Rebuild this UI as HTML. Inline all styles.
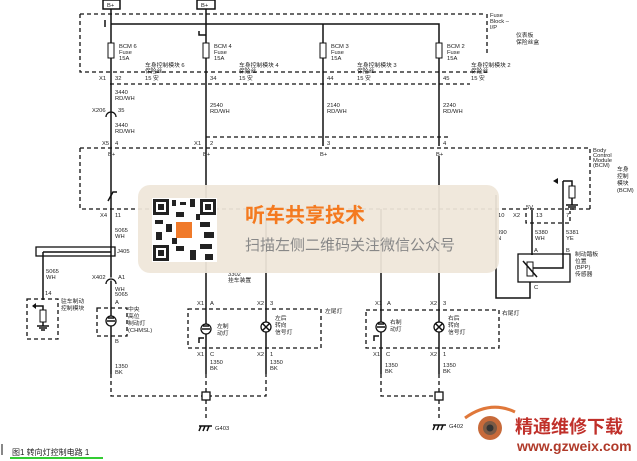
<!DOCTYPE html>
<html><head><meta charset="utf-8"><style>
html,body{margin:0;padding:0;background:#fff;}
svg{display:block;}
text{font-family:"Liberation Sans","Noto Sans CJK SC",sans-serif;fill:#222;}
.s{font-size:5.8px;}
.d{stroke:#111;stroke-width:1.3;stroke-dasharray:4,3;fill:none;}
.w{stroke:#111;stroke-width:1.5;fill:none;}
</style></head><body>
<svg width="637" height="461" viewBox="0 0 637 461" xmlns="http://www.w3.org/2000/svg">
<rect width="637" height="461" fill="#fff"/>
<rect x="103" y="0" width="17" height="9" fill="#fff" stroke="#111" stroke-width="1.5"/>
<text x="107" y="7" class="s">B+</text>
<rect x="197" y="0" width="18" height="9" fill="#fff" stroke="#111" stroke-width="1.5"/>
<text x="201" y="7" class="s">B+</text>
<path class="d" d="M80,14 H485 M487,14 V56 M80,14 V72 H487"/>
<path class="d" d="M110,84 H470"/>
<text x="490" y="17" class="s">Fuse</text><text x="490" y="23" class="s">Block –</text><text x="490" y="29" class="s">I/P</text>
<text x="516" y="37" class="s">仪表板</text><text x="516" y="44" class="s">保险丝盒</text>
<path class="w" d="M111,9 V374 M206,9 V374 M206,24 H439 V146 M323,24 V146 M111,24 H206"/>
<path class="w" d="M105,20 V27 M199,31 V35 H206"/>
<rect x="108" y="43" width="6" height="15" fill="#fff" stroke="#111"/>
<rect x="203" y="43" width="6" height="15" fill="#fff" stroke="#111"/>
<rect x="320" y="43" width="6" height="15" fill="#fff" stroke="#111"/>
<rect x="436" y="43" width="6" height="15" fill="#fff" stroke="#111"/>
<text x="119" y="48" class="s">BCM 6</text><text x="119" y="54" class="s">Fuse</text><text x="119" y="60" class="s">15A</text>
<text x="214" y="48" class="s">BCM 4</text><text x="214" y="54" class="s">Fuse</text><text x="214" y="60" class="s">15A</text>
<text x="331" y="48" class="s">BCM 3</text><text x="331" y="54" class="s">Fuse</text><text x="331" y="60" class="s">15A</text>
<text x="447" y="48" class="s">BCM 2</text><text x="447" y="54" class="s">Fuse</text><text x="447" y="60" class="s">15A</text>
<text x="145" y="67" class="s">车身控制模块 6</text><text x="145" y="73" class="s">保险丝</text><text x="145" y="80" class="s">15 安</text>
<text x="239" y="67" class="s">车身控制模块 4</text><text x="239" y="73" class="s">保险丝</text><text x="239" y="80" class="s">15 安</text>
<text x="357" y="67" class="s">车身控制模块 3</text><text x="357" y="73" class="s">保险丝</text><text x="357" y="80" class="s">15 安</text>
<text x="471" y="67" class="s">车身控制模块 2</text><text x="471" y="73" class="s">保险丝</text><text x="471" y="80" class="s">15 安</text>
<text x="99" y="80" class="s">X1</text><text x="115" y="80" class="s">32</text>
<text x="210" y="80" class="s">34</text><text x="327" y="80" class="s">44</text><text x="443" y="80" class="s">45</text>
<text x="115" y="94" class="s">3440</text><text x="115" y="100" class="s">RD/WH</text>
<text x="92" y="112" class="s">X206</text><text x="118" y="112" class="s">35</text>
<path d="M106,117 A5,5 0 0 1 116,117" fill="none" stroke="#111" stroke-width="1.3"/>
<text x="115" y="127" class="s">3440</text><text x="115" y="133" class="s">RD/WH</text>
<text x="210" y="107" class="s">2540</text><text x="210" y="113" class="s">RD/WH</text>
<text x="327" y="107" class="s">2140</text><text x="327" y="113" class="s">RD/WH</text>
<text x="443" y="107" class="s">2240</text><text x="443" y="113" class="s">RD/WH</text>
<path class="d" d="M206,137 H448"/>
<text x="102" y="145" class="s">X5</text><text x="115" y="145" class="s">4</text>
<text x="194" y="145" class="s">X1</text><text x="210" y="145" class="s">2</text>
<text x="327" y="145" class="s">3</text><text x="443" y="145" class="s">4</text>
<text x="108" y="156" class="s">B+</text><text x="203" y="156" class="s">B+</text><text x="320" y="156" class="s">B+</text><text x="436" y="156" class="s">B+</text>
<path class="d" d="M80,148 H590 V210 M80,148 V209 H590"/>
<text x="593" y="152" class="s">Body</text><text x="593" y="157" class="s">Control</text><text x="593" y="162" class="s">Module</text><text x="593" y="167" class="s">(BCM)</text>
<text x="617" y="171" class="s">车身</text><text x="617" y="178" class="s">控制</text><text x="617" y="185" class="s">模块</text><text x="617" y="192" class="s">(BCM)</text>
<path class="w" d="M108,201 L113,192 H117"/>
<text x="100" y="217" class="s">X4</text><text x="115" y="217" class="s">11</text>
<path class="w" d="M496,195 V298 H530 V282 M532,210 V255 M563,181 V268 H532 M563,181 H572 V186 M572,198 V205"/>
<path d="M553,181 L558,178 V184 Z" fill="#111"/>
<rect x="569" y="186" width="6" height="12" fill="#fff" stroke="#111"/>
<path class="w" d="M566,205 H578 M568,207 H576 M570,209 H574"/>
<rect x="518" y="254" width="52" height="28" fill="none" stroke="#111" stroke-width="1.3"/>
<rect x="527" y="262" width="6" height="14" fill="#fff" stroke="#111"/>
<path class="w" d="M523,261 L537,277"/>
<text x="526" y="209" class="s">5V</text><text x="513" y="217" class="s">X2</text><text x="536" y="217" class="s">13</text>
<text x="498" y="217" class="s">10</text><text x="566" y="217" class="s">7</text>
<path class="d" d="M526,213 V223 H570 V211"/>
<text x="497" y="234" class="s">390</text><text x="497" y="240" class="s">N</text>
<text x="535" y="234" class="s">5380</text><text x="535" y="240" class="s">WH</text>
<text x="566" y="234" class="s">5381</text><text x="566" y="240" class="s">YE</text>
<text x="534" y="252" class="s">A</text><text x="566" y="252" class="s">B</text><text x="534" y="289" class="s">C</text>
<text x="575" y="256" class="s">制动踏板</text><text x="575" y="263" class="s">位置</text><text x="575" y="269" class="s">(BPP)</text><text x="575" y="276" class="s">传感器</text>
<rect x="36" y="247" width="79" height="9" fill="none" stroke="#111" stroke-width="1.3"/>
<path class="w" d="M43,252 H111 M43,252 V300"/>
<text x="115" y="232" class="s">5065</text><text x="115" y="238" class="s">WH</text>
<text x="117" y="253" class="s">J405</text>
<text x="46" y="273" class="s">5065</text><text x="46" y="279" class="s">WH</text>
<text x="45" y="295" class="s">14</text>
<rect x="27" y="299" width="31" height="40" class="d"/>
<path class="w" d="M33,306 H43 V310"/><path d="M32,306 L36,303 V309Z" fill="#111"/>
<rect x="40" y="310" width="6" height="12" fill="#fff" stroke="#111"/>
<path class="w" d="M43,322 V326 M37,326 H49 M39,328 H47 M41,330 H45"/>
<text x="61" y="303" class="s">驻车制动</text><text x="61" y="310" class="s">控制模块</text>
<text x="92" y="279" class="s">X402</text><text x="118" y="279" class="s">A1</text>
<path d="M106,284 A5,5 0 0 1 116,284" fill="none" stroke="#fff" stroke-width="3"/>
<path d="M106,284 A5,5 0 0 1 116,284" fill="none" stroke="#111" stroke-width="1.3"/>
<text x="115" y="291" class="s">WH</text><text x="115" y="296" class="s">5065</text>
<text x="115" y="304" class="s">A</text>
<rect x="97" y="308" width="30" height="28" class="d"/>
<circle cx="111" cy="321" r="5" fill="#fff" stroke="#111" stroke-width="1.3"/>
<path class="w" d="M107,321 H115 M108,318 H114"/>
<text x="128" y="311" class="s">中央</text><text x="128" y="318" class="s">高位</text><text x="128" y="325" class="s">制动灯</text><text x="128" y="332" class="s">(CHMSL)</text>
<text x="115" y="343" class="s">B</text>
<text x="115" y="368" class="s">1350</text><text x="115" y="374" class="s">BK</text>
<path class="w" d="M266,209 V374"/>
<text x="228" y="276" class="s">3302</text><text x="228" y="282" class="s">挂车装置</text>
<text x="197" y="305" class="s">X1</text><text x="210" y="305" class="s">A</text>
<text x="257" y="305" class="s">X2</text><text x="270" y="305" class="s">3</text>
<path class="d" d="M188,309 H321 V348 H188 Z"/>
<text x="325" y="313" class="s">左尾灯</text>
<circle cx="206" cy="329" r="5" fill="#fff" stroke="#111" stroke-width="1.3"/>
<path class="w" d="M202,329 H210 M203,326 H209 M199,343 V338 H204"/>
<text x="217" y="328" class="s">左制</text><text x="217" y="335" class="s">动灯</text>
<circle cx="266" cy="327" r="5" fill="#fff" stroke="#111" stroke-width="1.3"/>
<path class="w" d="M262.5,323.5 L269.5,330.5 M269.5,323.5 L262.5,330.5"/>
<text x="275" y="320" class="s">左后</text><text x="275" y="327" class="s">转向</text><text x="275" y="334" class="s">信号灯</text>
<text x="197" y="356" class="s">X1</text><text x="210" y="356" class="s">C</text>
<text x="257" y="356" class="s">X2</text><text x="270" y="356" class="s">1</text>
<text x="210" y="364" class="s">1350</text><text x="210" y="370" class="s">BK</text>
<text x="270" y="364" class="s">1350</text><text x="270" y="370" class="s">BK</text>
<path class="d" d="M111,374 V396 H266 V374 M206,374 V392 M206,400 V418"/>
<rect x="202" y="392" width="8" height="8" fill="#fff" stroke="#111" stroke-width="1.3"/>
<path class="w" d="M199,426 H212 M201,426 L199,431 M205,426 L203,431 M209,426 L207,431"/>
<text x="215" y="430" class="s">G403</text>
<path class="w" d="M381,209 V374 M439,156 V374"/>
<text x="375" y="305" class="s">X1</text><text x="387" y="305" class="s">A</text>
<text x="430" y="305" class="s">X2</text><text x="443" y="305" class="s">3</text>
<path class="d" d="M366,310 H499 V348 H366 Z"/>
<text x="502" y="315" class="s">右尾灯</text>
<circle cx="381" cy="327" r="5" fill="#fff" stroke="#111" stroke-width="1.3"/>
<path class="w" d="M377,327 H385 M378,324 H384 M374,341 V336 H379"/>
<text x="390" y="324" class="s">右制</text><text x="390" y="331" class="s">动灯</text>
<circle cx="439" cy="327" r="5" fill="#fff" stroke="#111" stroke-width="1.3"/>
<path class="w" d="M435.5,323.5 L442.5,330.5 M442.5,323.5 L435.5,330.5"/>
<text x="448" y="320" class="s">右后</text><text x="448" y="327" class="s">转向</text><text x="448" y="334" class="s">信号灯</text>
<text x="373" y="356" class="s">X1</text><text x="386" y="356" class="s">C</text>
<text x="430" y="356" class="s">X2</text><text x="443" y="356" class="s">1</text>
<text x="385" y="367" class="s">1350</text><text x="385" y="373" class="s">BK</text>
<text x="443" y="367" class="s">1350</text><text x="443" y="373" class="s">BK</text>
<path class="d" d="M381,374 V396 H435 M439,374 V392 M439,400 V418"/>
<rect x="435" y="392" width="8" height="8" fill="#fff" stroke="#111" stroke-width="1.3"/>
<path class="w" d="M433,425 H446 M435,425 L433,430 M439,425 L437,430 M443,425 L441,430"/>
<text x="449" y="428" class="s">G402</text>
<rect x="138" y="185" width="361" height="88" rx="12" fill="#efe6d9" fill-opacity="0.93"/>
<rect x="152" y="198" width="65" height="64" fill="#fff"/>
<g fill="#222">
<rect x="153" y="199" width="16" height="16"/><rect x="156" y="202" width="10" height="10" fill="#fff"/><rect x="158" y="204" width="6" height="6"/>
<rect x="200" y="199" width="16" height="16"/><rect x="203" y="202" width="10" height="10" fill="#fff"/><rect x="205" y="204" width="6" height="6"/>
<rect x="153" y="245" width="16" height="16"/><rect x="156" y="248" width="10" height="10" fill="#fff"/><rect x="158" y="250" width="6" height="6"/>
<rect x="172" y="200" width="4" height="6"/><rect x="180" y="202" width="6" height="3"/><rect x="190" y="199" width="5" height="8"/>
<rect x="155" y="220" width="8" height="4"/><rect x="166" y="224" width="6" height="8"/><rect x="176" y="212" width="8" height="5"/>
<rect x="200" y="222" width="10" height="5"/><rect x="204" y="232" width="10" height="6"/><rect x="176" y="246" width="8" height="5"/>
<rect x="190" y="250" width="6" height="10"/><rect x="200" y="244" width="12" height="5"/><rect x="205" y="254" width="8" height="6"/>
<rect x="156" y="232" width="6" height="8"/><rect x="172" y="238" width="5" height="6"/><rect x="196" y="214" width="4" height="6"/>
</g>
<rect x="176" y="222" width="16" height="16" fill="#f07a2a"/>
<text x="245" y="222" style="font-size:20px;fill:#f47a20;font-weight:bold">听车共享技术</text>
<text x="245" y="250" style="font-size:15px;fill:#888">扫描左侧二维码关注微信公众号</text>
<circle cx="490" cy="428" r="12" fill="#c76a3a"/><circle cx="490" cy="428" r="7" fill="#7a5a45"/><circle cx="490" cy="428" r="3.5" fill="#333"/>
<path d="M465,418 Q490,400 515,412" fill="none" stroke="#e0783a" stroke-width="3"/>
<text x="515" y="433" style="font-size:18px;fill:#c0302a;font-weight:bold">精通维修下载</text>
<text x="517" y="451" style="font-size:14px;fill:#b03a2a;font-weight:bold">www.gzweix.com</text>
<path d="M2,444 V455" stroke="#111" stroke-width="1"/>
<text x="12" y="455" style="font-size:8px">图1  转向灯控制电路 1</text>
<path d="M10,458 H103" stroke="#3c3" stroke-width="2"/>
</svg>
</body></html>
